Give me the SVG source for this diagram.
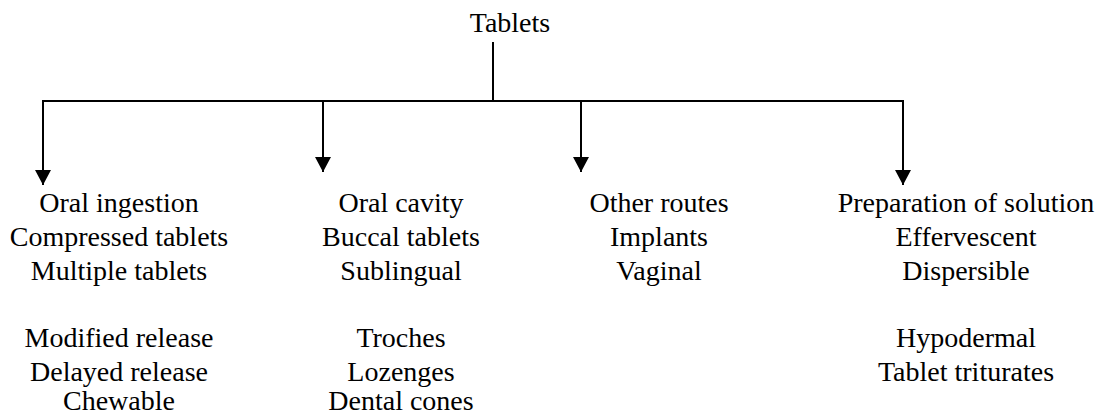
<svg xmlns="http://www.w3.org/2000/svg" width="1097" height="414" viewBox="0 0 1097 414">
<defs>
<style>
.t{font-size:28px;fill:#000;text-anchor:middle}
.c{stroke:#000;stroke-width:2;fill:none}
</style>
<marker id="ah" markerUnits="userSpaceOnUse" markerWidth="16" markerHeight="16" refX="15" refY="8" orient="auto">
<path d="M0,0 L15,8 L0,16 z" fill="#000"/>
</marker>
</defs>
<rect width="1097" height="414" fill="#fff"/>
<g id="connectors">
<line class="c" x1="493" y1="42" x2="493" y2="101" stroke-width="1.6"/>
<line class="c" x1="42" y1="101" x2="904" y2="101"/>
<line class="c" x1="43" y1="100" x2="43" y2="185" marker-end="url(#ah)"/>
<line class="c" x1="323" y1="100" x2="323" y2="172" marker-end="url(#ah)"/>
<line class="c" x1="581" y1="100" x2="581" y2="172" marker-end="url(#ah)"/>
<line class="c" x1="903" y1="100" x2="903" y2="185" marker-end="url(#ah)"/>
</g>
<g font-family="'Liberation Serif', 'Times New Roman', 'DejaVu Serif', serif">
<g id="root"><text class="t" x="510" y="32">Tablets</text></g>
<g id="oral-ingestion">
<text class="t" x="119" y="212">Oral ingestion</text>
<text class="t" x="119" y="246">Compressed tablets</text>
<text class="t" x="119" y="280">Multiple tablets</text>
<text class="t" x="119" y="347">Modified release</text>
<text class="t" x="119" y="381">Delayed release</text>
<text class="t" x="119" y="410">Chewable</text>
</g>
<g id="oral-cavity">
<text class="t" x="401" y="212">Oral cavity</text>
<text class="t" x="401" y="246">Buccal tablets</text>
<text class="t" x="401" y="280">Sublingual</text>
<text class="t" x="401" y="347">Troches</text>
<text class="t" x="401" y="381">Lozenges</text>
<text class="t" x="401" y="410">Dental cones</text>
</g>
<g id="other-routes">
<text class="t" x="659" y="212">Other routes</text>
<text class="t" x="659" y="246">Implants</text>
<text class="t" x="659" y="280">Vaginal</text>
</g>
<g id="preparation-of-solution">
<text class="t" x="966" y="212">Preparation of solution</text>
<text class="t" x="966" y="246">Effervescent</text>
<text class="t" x="966" y="280">Dispersible</text>
<text class="t" x="966" y="347">Hypodermal</text>
<text class="t" x="966" y="381">Tablet triturates</text>
</g>
</g>
</svg>
